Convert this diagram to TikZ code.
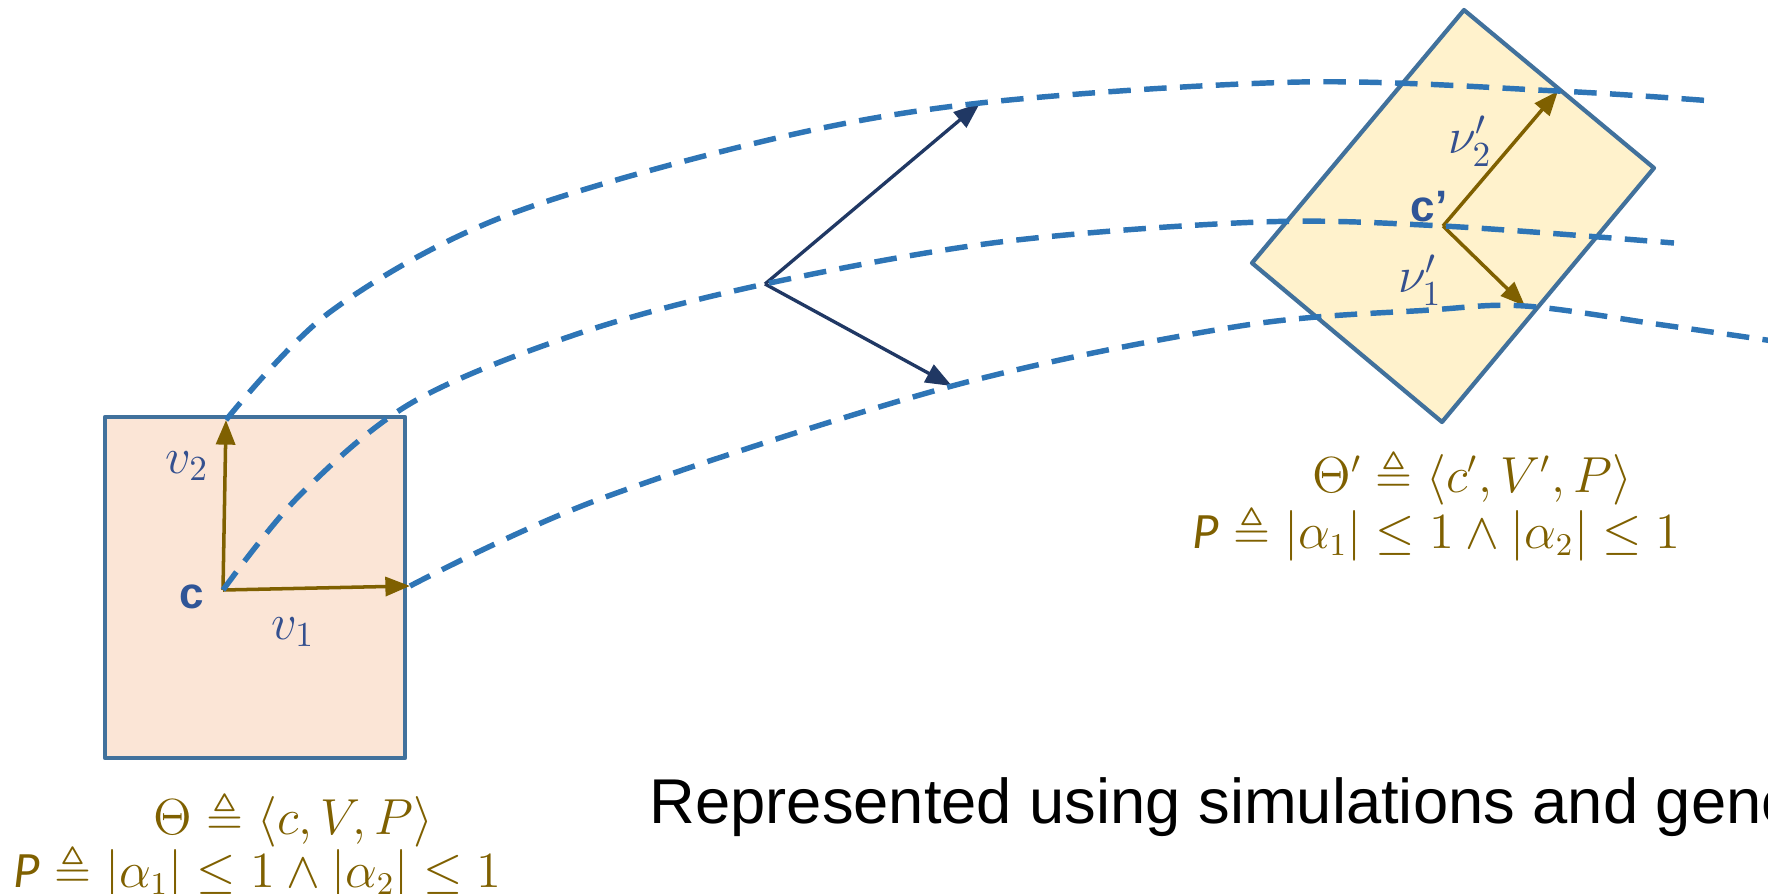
\documentclass[tikz,border=0pt]{standalone}
\usepackage{amsmath,amssymb}
\usepackage{fontspec}
\newfontfamily\arialf{Liberation Sans}
\newfontfamily\carlito{Carlito}
\usetikzlibrary{arrows.meta}
\definecolor{dashblue}{HTML}{2E75B6}
\definecolor{boxblue}{HTML}{41719C}
\definecolor{fillL}{HTML}{FBE5D6}
\definecolor{fillR}{HTML}{FFF2CC}
\definecolor{arrbrown}{HTML}{7F6000}
\definecolor{navyc}{HTML}{203864}
\definecolor{lblblue}{HTML}{2F5597}
\definecolor{vblue}{HTML}{34508F}
\tikzset{
  dashtraj/.style={draw=dashblue, line width=1.55pt, dash pattern=on 6.4pt off 3.8pt},
  boxedge/.style={draw=boxblue, line width=1.2pt, line join=round},
  brownarrow/.style={draw=arrbrown, line width=1pt, -{Triangle[length=7pt,width=5.4pt]}},
  navyarrow/.style={draw=navyc, line width=0.95pt, -{Triangle[length=7.5pt,width=5.6pt]}},
  mathlbl/.style={inner sep=0pt, anchor=base west, text=arrbrown, font=\fontsize{13.5}{16}\selectfont},
  clabel/.style={inner sep=0pt, text=lblblue, font=\arialf\bfseries\fontsize{12.5}{14}\selectfont},
  vlabel/.style={inner sep=0pt, text=vblue, font=\fontsize{14}{16}\selectfont},
  captxt/.style={inner sep=0pt, anchor=base west, text=black, font=\arialf\fontsize{18}{20}\selectfont}
}
\newcommand{\sansP}{\text{\carlito\itshape\fontsize{14.5}{16}\selectfont P}}
\begin{document}
\begin{tikzpicture}[x=0.01cm, y=-0.01cm]
\useasboundingbox (0,0) rectangle (1768,893);
\clip (0,0) rectangle (1768,893);
% key points
\coordinate (c) at (223,590);
\coordinate (v1tip) at (410,586);
\coordinate (v2tip) at (226,420);
\coordinate (m) at (765,284);
\coordinate (mu) at (980,103);
\coordinate (md) at (952,386);
\coordinate (cp) at (1443,226);
\coordinate (v2ptip) at (1558,91);
\coordinate (v1ptip) at (1525,306);
% boxes
\coordinate (L1) at (105,417);
\coordinate (L2) at (405,758);
\draw[boxedge, fill=fillL] (L1) rectangle (L2);
\coordinate (R1) at (1464,10);
\coordinate (R2) at (1654,168);
\coordinate (R3) at (1442,422);
\coordinate (R4) at (1252,263);
\draw[boxedge, fill=fillR] (R1) -- (R2) -- (R3) -- (R4) -- cycle;
% vectors
\draw[brownarrow] (c) -- (v2tip);
\draw[brownarrow] (c) -- (v1tip);
\draw[brownarrow] (cp) -- (v2ptip);
\draw[brownarrow] (cp) -- (v1ptip);
\draw[navyarrow] (m) -- (mu);
\draw[navyarrow] (m) -- (md);
% trajectories
\draw[dashtraj] plot[smooth, tension=0.55] coordinates {(v2tip) (330,312) (500,218) (760,142) (mu) (1300,82) (v2ptip) (1713,101)};
\draw[dashtraj] plot[smooth, tension=0.55] coordinates {(c) (300,495) (413,402) (580,333) (m) (1000,242) (1260,222) (cp) (1674,243)};
\draw[dashtraj] plot[smooth, tension=0.55] coordinates {(v1tip) (600,499) (md) (1240,326) (1430,310) (v1ptip) (1663,325) (1780,342)};
% labels
\node[clabel] (clbl) at (192,597) {c};
\node[clabel] (cplbl) at (1429,207) {c’};
\node[vlabel] (v2lbl) at (187,466) {$v_2$};
\node[vlabel] (v1lbl) at (293,632) {$v_1$};
\node[vlabel] (v2plbl) at (1470,141) {$\nu_2'$};
\node[vlabel] (v1plbl) at (1420,280) {$\nu_1'$};
% formulas
\node[mathlbl] (thL) at (153,834) {$\Theta \triangleq \langle c, V, P\rangle$};
\node[mathlbl] (pL) at (13,887) {$\sansP \triangleq |\alpha_1| \leq 1 \wedge |\alpha_2| \leq 1$};
\node[mathlbl] (thR) at (1312,492) {$\Theta' \triangleq \langle c', V', P\rangle$};
\node[mathlbl] (pR) at (1192,548) {$\sansP \triangleq |\alpha_1| \leq 1 \wedge |\alpha_2| \leq 1$};
\node[captxt] (cap) at (649,823) {Represented using simulations and generalization};
\end{tikzpicture}
\end{document}
